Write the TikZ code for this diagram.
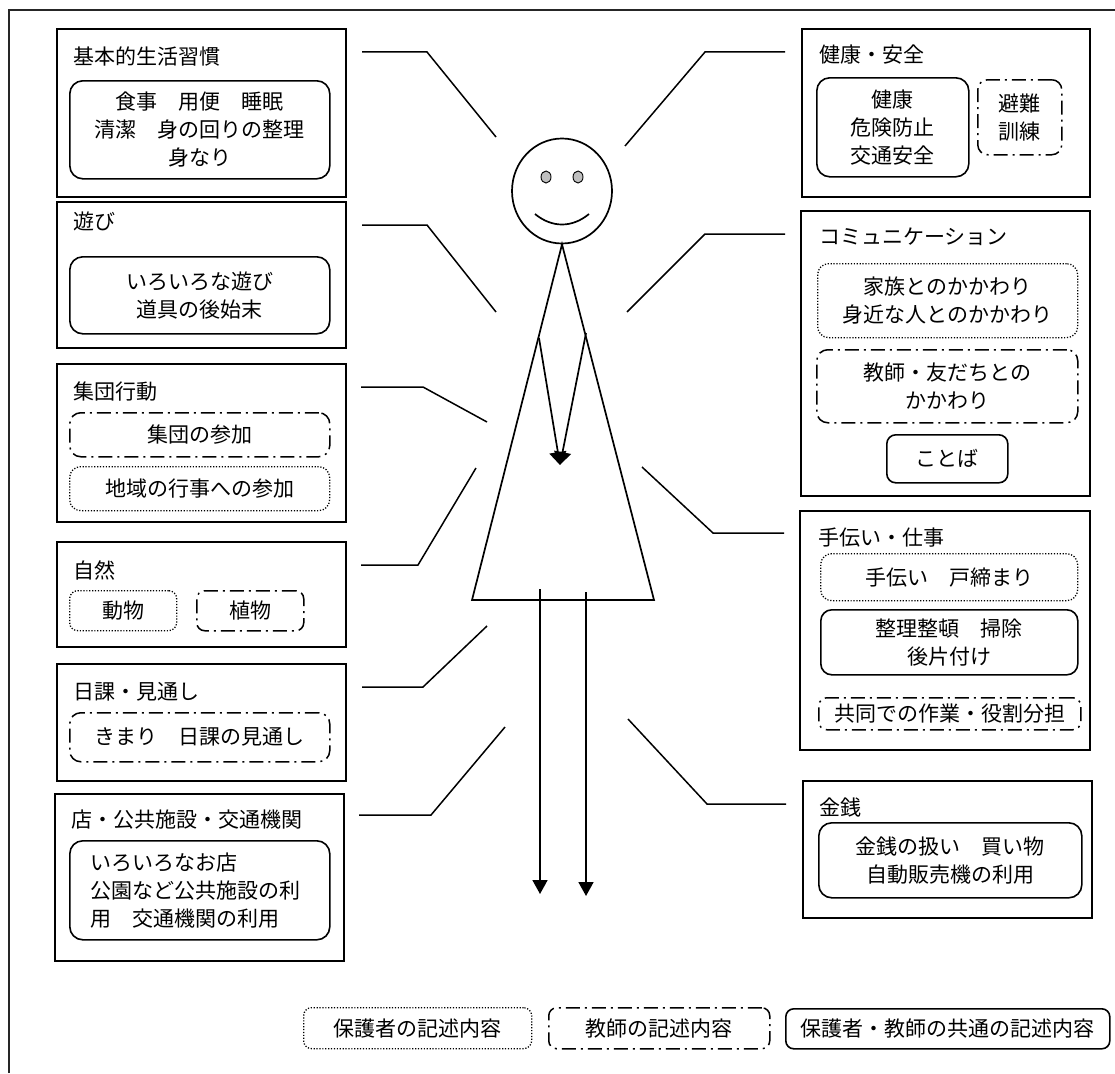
\documentclass[tikz,border=0pt]{standalone}
\usepackage{fontspec}
\newfontfamily\jp{Noto Sans CJK JP}
\usetikzlibrary{shapes.geometric,arrows.meta}
\begin{document}
\begin{tikzpicture}[x=1pt,y=-1pt,
  jpfont/.style={font=\jp\fontsize{21pt}{28pt}\selectfont},
  catbox/.style={draw, line width=1.7pt, inner sep=0pt, anchor=north west},
  cattitle/.style={jpfont, anchor=west, inner sep=0pt},
  solidbox/.style={draw, line width=1.6pt, rounded corners=11pt, anchor=north west,
    align=center, inner sep=0pt, jpfont},
  dotbox/.style={solidbox, line width=1.3pt, dash pattern=on 1.2pt off 1.7pt},
  dashdotbox/.style={solidbox, line width=1.5pt, dash pattern=on 14pt off 5pt on 2pt off 5pt},
  link/.style={line width=1.5pt},
  figline/.style={line width=1.7pt},
  handtip/.style={-{Triangle[length=13pt,width=17pt]}},
  foottip/.style={-{Triangle[length=14pt,width=15pt]}}
]
\useasboundingbox (0,0) rectangle (1115,1073);

% outer frame (top and left edges)
\draw[line width=1.6pt, black!85] (9,1073) -- (9,10) -- (1115,10);

% ---------- left column ----------
\node[catbox, minimum width=289pt, minimum height=168pt] (B1) at (56,28) {};
\node[cattitle] (B1t) at (73,57) {基本的生活習慣};
\node[solidbox, rounded corners=13pt, minimum width=260pt, minimum height=98pt] (B1i) at (69,80)
  {食事　用便　睡眠\\清潔　身の回りの整理\\身なり};

\node[catbox, minimum width=289pt, minimum height=146pt] (B2) at (56,201) {};
\node[cattitle] (B2t) at (73,221) {遊び};
\node[solidbox, rounded corners=13pt, minimum width=260pt, minimum height=77pt] (B2i) at (69,256)
  {いろいろな遊び\\道具の後始末};

\node[catbox, minimum width=289pt, minimum height=158pt] (B3) at (56,363) {};
\node[cattitle] (B3t) at (73,392) {集団行動};
\node[dashdotbox, minimum width=260pt, minimum height=44pt] (B3a) at (69,412) {集団の参加};
\node[dotbox, minimum width=260pt, minimum height=44pt] (B3b) at (69,466) {地域の行事への参加};

\node[catbox, minimum width=289pt, minimum height=105pt] (B4) at (56,541) {};
\node[cattitle] (B4t) at (73,570) {自然};
\node[dotbox, rounded corners=8pt, minimum width=107pt, minimum height=40pt] (B4a) at (69,590) {動物};
\node[dashdotbox, rounded corners=8pt, minimum width=107pt, minimum height=40pt] (B4b) at (196,590) {植物};

\node[catbox, minimum width=289pt, minimum height=117pt] (B5) at (56,663) {};
\node[cattitle] (B5t) at (73,692) {日課・見通し};
\node[dashdotbox, minimum width=260pt, minimum height=49pt] (B5a) at (69,712) {きまり　日課の見通し};

\node[catbox, minimum width=289pt, minimum height=167pt] (B6) at (54,793) {};
\node[cattitle] (B6t) at (71,820) {店・公共施設・交通機関};
\node[solidbox, rounded corners=13pt, align=left, inner xsep=21pt, text width=218pt,
  minimum height=99pt] (B6a) at (69,840)
  {いろいろなお店\\公園など公共施設の利\\用　交通機関の利用};

% ---------- right column ----------
\node[catbox, minimum width=288pt, minimum height=168pt] (R1) at (801,28) {};
\node[cattitle] (R1t) at (819,55) {健康・安全};
\node[solidbox, rounded corners=13pt, minimum width=152pt, minimum height=99pt] (R1a) at (816,77)
  {健康\\危険防止\\交通安全};
\node[dashdotbox, rounded corners=10pt, minimum width=84pt, minimum height=75pt] (R1b) at (977,79)
  {避難\\訓練};

\node[catbox, minimum width=289pt, minimum height=285pt] (R2) at (800,210) {};
\node[cattitle] (R2t) at (819,237) {コミュニケーション};
\node[dotbox, minimum width=260pt, minimum height=74pt] (R2a) at (817,263)
  {家族とのかかわり\\身近な人とのかかわり};
\node[dashdotbox, minimum width=261pt, minimum height=73pt] (R2b) at (816,349)
  {教師・友だちとの\\かかわり};
\node[solidbox, rounded corners=9pt, minimum width=121pt, minimum height=48pt] (R2c) at (886,434) {ことば};

\node[catbox, minimum width=290pt, minimum height=239pt] (R3) at (799,510) {};
\node[cattitle] (R3t) at (818,538) {手伝い・仕事};
\node[dotbox, minimum width=257pt, minimum height=47pt] (R3a) at (820,553) {手伝い　戸締まり};
\node[solidbox, minimum width=257pt, minimum height=65pt] (R3b) at (820,609)
  {整理整頓　掃除\\後片付け};
\node[dashdotbox, rounded corners=8pt, minimum width=262pt, minimum height=32pt] (R3c) at (818,697)
  {共同での作業・役割分担};

\node[catbox, minimum width=289pt, minimum height=137pt] (R4) at (802,780) {};
\node[cattitle] (R4t) at (819,808) {金銭};
\node[solidbox, rounded corners=13pt, minimum width=263pt, minimum height=75pt] (R4a) at (818,822)
  {金銭の扱い　買い物\\自動販売機の利用};

% ---------- legend ----------
\node[dotbox, rounded corners=8pt, minimum width=228pt, minimum height=41pt] (K1) at (303,1007) {保護者の記述内容};
\node[dashdotbox, rounded corners=8pt, minimum width=221pt, minimum height=41pt] (K2) at (548,1007) {教師の記述内容};
\node[solidbox, rounded corners=8pt, minimum width=324pt, minimum height=40pt] (K3) at (785,1008) {保護者・教師の共通の記述内容};

% ---------- figure ----------
\node[draw, ellipse, figline, minimum width=100pt, minimum height=105pt, inner sep=0pt] (head) at (562,191) {};
\node[draw, ellipse, line width=0.9pt, fill=black!25, minimum width=10pt, minimum height=12pt, inner sep=0pt] (eyeL) at (546,177) {};
\node[draw, ellipse, line width=0.9pt, fill=black!25, minimum width=10pt, minimum height=12pt, inner sep=0pt] (eyeR) at (578,177) {};
\draw[figline] (535,214) .. controls (552,228) and (572,228) .. (589,214);

\coordinate (hemL) at (472,600);
\coordinate (hemR) at (654,600);
\draw[figline, line join=miter] (head.south) -- (hemL) -- (hemR) -- cycle;

\coordinate (armL) at (539,338);
\coordinate (armR) at (586,333);
\coordinate (hand) at (560,465);
\draw[figline, handtip] (armL) -- (hand);
\draw[figline, handtip] (armR) -- (hand);

\coordinate (legLtop) at (540,589);
\coordinate (legLend) at (540,894);
\coordinate (legRtop) at (586,592);
\coordinate (legRend) at (586,896);
\draw[figline, foottip] (legLtop) -- (legLend);
\draw[figline, foottip] (legRtop) -- (legRend);

% ---------- connectors ----------
\coordinate (l1a) at (362,52);  \coordinate (l1b) at (427,52);  \coordinate (l1c) at (496,137);
\coordinate (l2a) at (362,225); \coordinate (l2b) at (427,225); \coordinate (l2c) at (496,312);
\coordinate (l3a) at (361,387); \coordinate (l3b) at (423,387); \coordinate (l3c) at (487,422);
\coordinate (l4a) at (361,565); \coordinate (l4b) at (418,565); \coordinate (l4c) at (476,468);
\coordinate (l5a) at (362,687); \coordinate (l5b) at (423,687); \coordinate (l5c) at (487,626);
\coordinate (l6a) at (359,815); \coordinate (l6b) at (431,815); \coordinate (l6c) at (505,727);
\coordinate (r1a) at (785,52);  \coordinate (r1b) at (705,52);  \coordinate (r1c) at (625,146);
\coordinate (r2a) at (785,234); \coordinate (r2b) at (705,234); \coordinate (r2c) at (627,312);
\coordinate (r3a) at (784,533); \coordinate (r3b) at (713,533); \coordinate (r3c) at (642,467);
\coordinate (r4a) at (786,804); \coordinate (r4b) at (707,804); \coordinate (r4c) at (628,719);

\foreach \c in {l1,l2,l3,l4,l5,l6,r1,r2,r3,r4}
  \draw[link] (\c a) -- (\c b) -- (\c c);
\end{tikzpicture}
\end{document}
